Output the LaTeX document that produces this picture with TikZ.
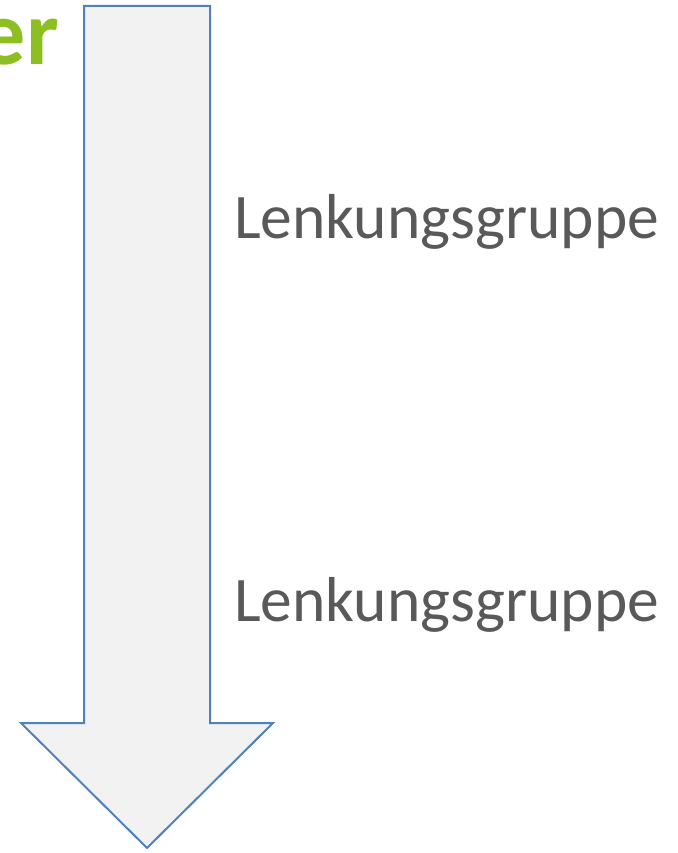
\documentclass[tikz,border=0pt]{standalone}
\usepackage{fontspec}
\setmainfont{Carlito}
\definecolor{arrowfill}{HTML}{F2F2F2}
\definecolor{arrowline}{HTML}{4F81BD}
\definecolor{labelgray}{HTML}{595959}
\definecolor{titlegreen}{HTML}{8DBE22}
\begin{document}
\begin{tikzpicture}[x=1pt,y=-1pt,
  labeltext/.style={font=\fontsize{63.5}{70}\selectfont, text=labelgray, inner sep=0pt, anchor=base west},
  titletext/.style={font=\fontsize{92}{100}\selectfont\bfseries, text=titlegreen, inner sep=0pt, anchor=base east},
  bigarrow/.style={draw=arrowline, fill=arrowfill, line width=2pt, line join=miter}]
\useasboundingbox (0,0) rectangle (677,853);
\begin{scope}
\clip (0,0) rectangle (677,853);
\node[titletext] (title) at (59,65) {er};
\end{scope}
\draw[bigarrow] (84,6) -- (210,6) -- (210,723) -- (273,723) -- (147,848) -- (21,723) -- (84,723) -- cycle;
\node[labeltext] (lg1) at (234,238) {Lenkungsgruppe};
\node[labeltext] (lg2) at (234,621) {Lenkungsgruppe};
\end{tikzpicture}
\end{document}
